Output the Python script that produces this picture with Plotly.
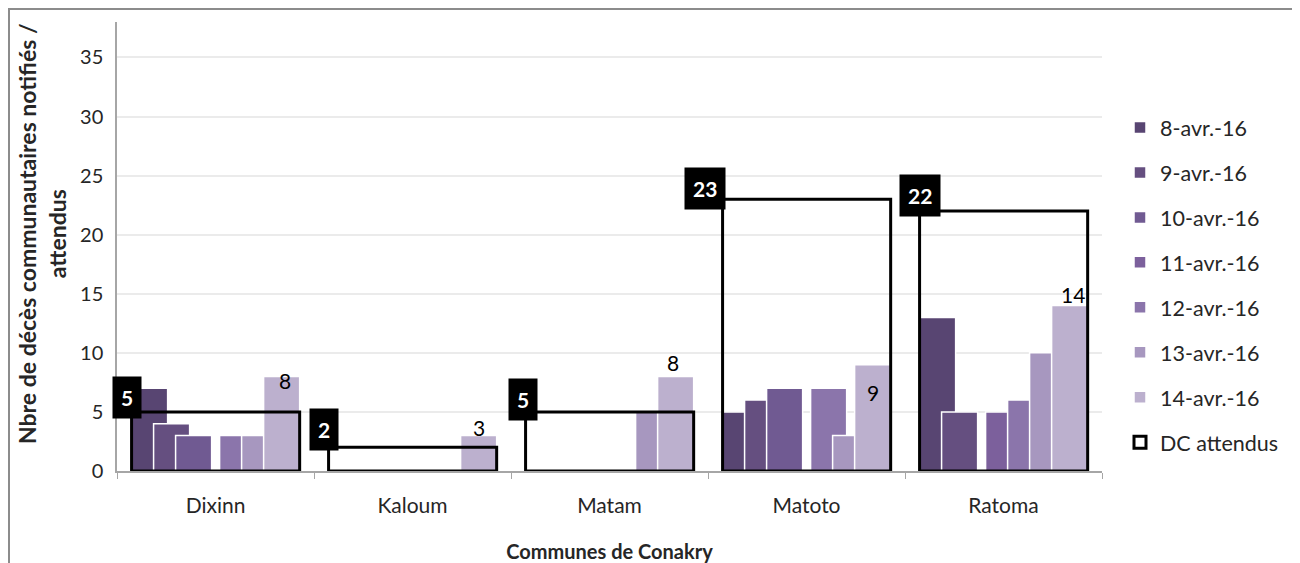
import plotly.graph_objects as go

categories = ["Dixinn", "Kaloum", "Matam", "Matoto", "Ratoma"]
series_names = ["8-avr.-16", "9-avr.-16", "10-avr.-16", "11-avr.-16",
                "12-avr.-16", "13-avr.-16", "14-avr.-16"]
s_8avr = [7, 0, 0, 5, 13]
s_9avr = [4, 0, 0, 6, 5]
s_10avr = [3, 0, 0, 7, 0]
s_11avr = [0, 0, 0, 0, 5]
s_12avr = [3, 0, 0, 7, 6]
s_13avr = [3, 0, 5, 3, 10]
s_14avr = [8, 3, 8, 9, 14]
dc_attendus = [5, 2, 5, 23, 22]
y_ticks = [0, 5, 10, 15, 20, 25, 30, 35]
y_title = "Nbre de décès communautaires notifiés /<br>attendus"
x_title = "Communes de Conakry"

series_values = [s_8avr, s_9avr, s_10avr, s_11avr, s_12avr, s_13avr, s_14avr]
colors = ["#584572", "#654f80", "#705a92", "#7c609c", "#8b75ab", "#a797bf", "#bcb0ce"]

FONT = "Lato"
BAR_W = 0.183
STEP = 0.1117
START = -0.426

# label nudges (pixels) for the DC boxes and the last-series value labels
dc_shift = [(-5, 14), (-5, 18), (-3, 12), (-18, 11), (0, 16)]
val_shift = [(3, -4), (0, 8), (-3, 14), (0, -28), (3, 11)]

fig = go.Figure()
for i, (name, vals, col) in enumerate(zip(series_names, series_values, colors)):
    fig.add_trace(go.Bar(
        x=categories, y=[v if v != 0 else None for v in vals], name=name,
        offset=START + i * STEP, width=BAR_W,
        marker=dict(color=col, line=dict(color="white", width=1.5)),
        legendgroup=name, hoverinfo="x+y+name",
    ))

dc_width = 6 * STEP + BAR_W
fig.add_trace(go.Bar(
    x=categories, y=dc_attendus, name="DC attendus",
    offset=START, width=dc_width,
    marker=dict(color="rgba(0,0,0,0)", line=dict(color="black", width=3)),
    legendgroup="dc",
))

# page offset of the figure (browser body margin)
OFF = 8
PL, PR, PT, PB = 117 - OFF, 1102 - OFF, 22 - OFF, 471 - OFF
W, H = 1300 - OFF, 563 - OFF
pw, ph = PR - PL, PB - PT
def px_x(p):
    return (p - OFF - PL) / pw
def px_y(p):
    return (PB - (p - OFF)) / ph

annotations = []
for i, v in enumerate(dc_attendus):
    dx, dy = dc_shift[i]
    annotations.append(dict(
        x=i + START, y=v, xref="x", yref="y", text=f"<b>{v}</b>",
        showarrow=False, xanchor="center", yanchor="middle",
        xshift=dx, yshift=dy, bgcolor="black", borderpad=8,
        font=dict(family=FONT, size=21, color="white"),
    ))
last = s_14avr
for i, v in enumerate(last):
    dx, dy = val_shift[i]
    annotations.append(dict(
        x=i + START + 6 * STEP + BAR_W / 2, y=v, xref="x", yref="y", text=str(v),
        showarrow=False, xanchor="center", yanchor="middle",
        xshift=dx, yshift=dy,
        font=dict(family=FONT, size=21, color="black"),
    ))
annotations.append(dict(
    x=px_x(42), y=px_y(234), xref="paper", yref="paper",
    text=f"<b>{y_title}</b>", textangle=-90, showarrow=False,
    xanchor="center", yanchor="middle",
    font=dict(family=FONT, size=23, color="#262626"),
))

fig.update_layout(
    width=W, height=H,
    margin=dict(l=PL, r=W - PR, t=PT, b=H - PB, autoexpand=False),
    barmode="overlay",
    plot_bgcolor="white", paper_bgcolor="white",
    font=dict(family=FONT, size=20, color="#262626"),
    showlegend=True,
    legend=dict(
        x=px_x(1120), y=px_y(107), xanchor="left", yanchor="top",
        traceorder="grouped", tracegroupgap=14,
        font=dict(family=FONT, size=21.5, color="#262626"),
        bgcolor="rgba(0,0,0,0)", itemwidth=30,
    ),
    annotations=annotations,
    shapes=[dict(type="rect", xref="paper", yref="paper",
                 x0=px_x(OFF + 1), x1=px_x(1320), y0=px_y(600), y1=px_y(OFF + 1),
                 line=dict(color="#8c8c8c", width=2), layer="below")],
    xaxis=dict(
        type="category", categoryorder="array", categoryarray=categories,
        range=[-0.5, len(categories) - 0.5], automargin=False,
        showline=True, linecolor="#a6a6a6", linewidth=1.5,
        ticks="outside", tickson="boundaries", ticklen=6, tickcolor="#a6a6a6",
        ticklabelstandoff=15,
        tickfont=dict(family=FONT, size=21, color="#262626"),
        showgrid=False,
        title=dict(text=f"<b>{x_title}</b>", standoff=31,
                   font=dict(family=FONT, size=20, color="#262626")),
    ),
    yaxis=dict(
        range=[0, 38], tickvals=y_ticks, automargin=False,
        showline=True, linecolor="#a6a6a6", linewidth=1.5,
        ticks="", showgrid=True, gridcolor="#ebebeb", gridwidth=1.5,
        zeroline=False, ticklabelstandoff=8,
        tickfont=dict(family=FONT, size=20, color="#262626"),
    ),
)

fig.write_html("out.html")
